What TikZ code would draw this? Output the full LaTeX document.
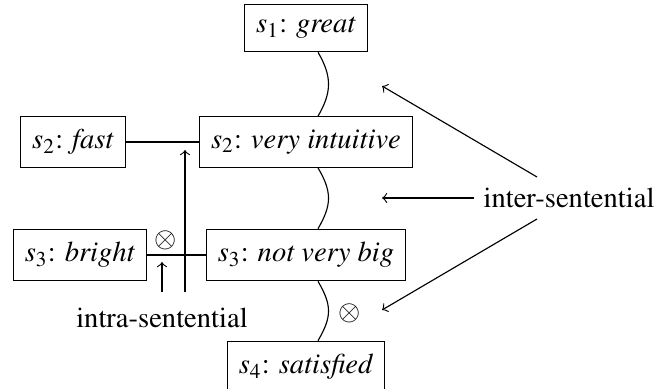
\documentclass[tikz,border=0pt]{standalone}
\usepackage[T1]{fontenc}
\usepackage{mathptmx}
\usetikzlibrary{calc}
\begin{document}
\begin{tikzpicture}[x=0.35pt,y=-0.35pt,
  seg/.style={draw, inner xsep=4pt, inner ysep=4.6pt},
  link/.style={line width=0.4pt},
  note/.style={->, line width=0.4pt},
  flow/.style={line width=0.4pt}]
\useasboundingbox (0,0) rectangle (657,389);

% sentence segments
\node[seg] (great) at (306,28) {$s_1$: \textit{great}};
\node[seg] (fast) at (73,142) {$s_2$: \textit{fast}};
\node[seg] (intuitive) at (306,142) {$s_2$: \textit{very intuitive}};
\node[seg] (bright) at (80,255) {$s_3$: \textit{bright}};
\node[seg] (notbig) at (306,255) {$s_3$: \textit{not very big}};
\node[seg] (satisfied) at (306,367) {$s_4$: \textit{satisfied}};

% labels
\node (inter) at (569,198) {inter-sentential};
\node (intra) at (162,318) {intra-sentential};
\node (xintra) at (166,240) {$\otimes$};
\node (xinter) at (350,313) {$\otimes$};

% spine of the inter-sentential chain
\coordinate (spine) at (318,0);
\draw[flow] (great.south -| spine) .. controls +(14,24) and +(14,-24) .. (intuitive.north -| spine);
\draw[flow] (intuitive.south -| spine) .. controls +(14,24) and +(14,-24) .. (notbig.north -| spine);
\draw[flow] (notbig.south -| spine) .. controls +(14,24) and +(14,-24) .. (satisfied.north -| spine);

% intra-sentential links
\draw[link] (fast) -- (intuitive);
\draw[link] (bright) -- (notbig);

% pointers from the labels
\coordinate (vbase) at (185,292);
\coordinate (vtip) at (185,150);
\draw[note] (vbase) -- (vtip);
\coordinate (sbase) at (162,292);
\coordinate (stip) at (162,262);
\draw[note] (sbase) -- (stip);

\coordinate (t1) at (382,86);
\coordinate (t2) at (382,198);
\coordinate (t3) at (382,310);
\draw[note] (537,177) -- (t1);
\draw[note] (inter.west) -- (t2);
\draw[note] (537,219) -- (t3);
\end{tikzpicture}
\end{document}
